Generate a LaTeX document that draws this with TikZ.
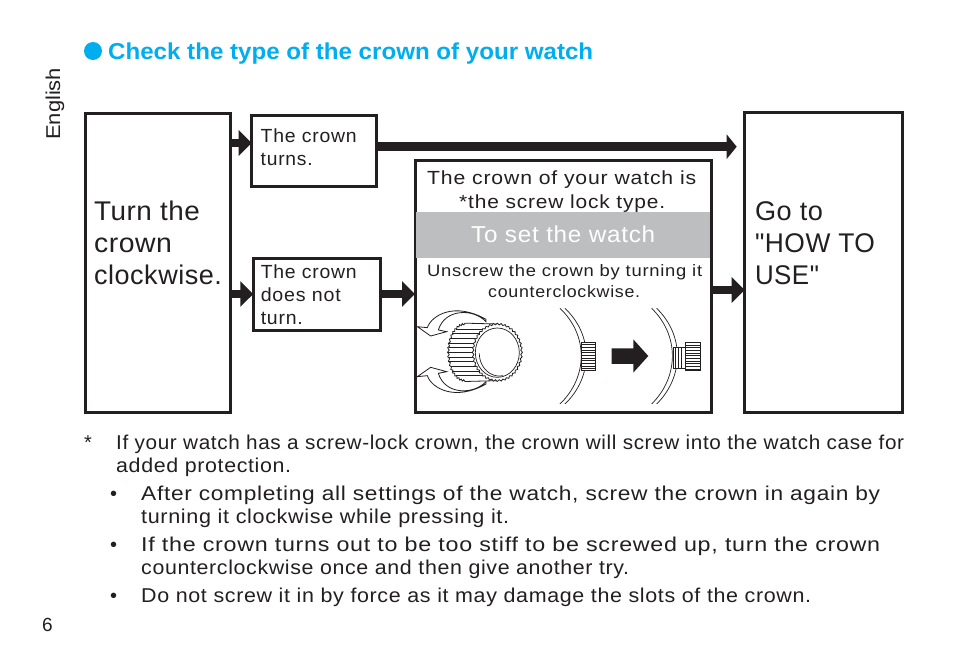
\documentclass[tikz,border=0pt]{standalone}
\usepackage{fontspec}
\setmainfont{Liberation Sans}
\newfontfamily\plainf{Liberation Sans}
\usetikzlibrary{arrows.meta}
\definecolor{ink}{HTML}{231F20}
\definecolor{headblue}{HTML}{00AEEF}
\definecolor{band}{HTML}{BCBEC0}
\newsavebox{\fitbox}
\newcommand{\fitw}[2]{\sbox{\fitbox}{#2}\pgfmathsetmacro{\fitr}{#1/\the\wd\fitbox}\scalebox{\fitr}[1]{#2}}
\newcommand{\boxtxt}[5]{\parbox[c][#2pt][t]{#1pt}{\raggedright\leftskip=#3pt\relax\rule{0pt}{#4pt}#5}}
\newcommand{\bigf}{\fontsize{27}{32}\selectfont\addfontfeature{LetterSpace=2}}
\newcommand{\smf}{\fontsize{19}{23}\selectfont\addfontfeature{LetterSpace=4}}
\newcommand{\bodyf}{\fontsize{20}{23}\selectfont\addfontfeature{LetterSpace=3}}
\tikzset{
 boxn/.style={draw=ink,line width=3pt,inner sep=0pt,outer sep=0pt,anchor=north west,text=ink},
 tx/.style={inner sep=0pt,anchor=base west,text=ink},
 flow/.style={draw=ink,line width=8.5pt,-{Triangle[length=13pt,width=25pt,color=ink]}},
 fig/.style={draw=ink,line width=0.8pt,fill=white},
 figl/.style={draw=ink,line width=0.7pt}
}
\begin{document}
\begin{tikzpicture}[x=1pt,y=-1pt]
\useasboundingbox[fill=white] (0,0) rectangle (954,665);
% heading
\node[circle,fill=headblue,minimum size=18pt,inner sep=0pt] (dot) at (93,51) {};
\node[tx,text=headblue] (head) at (108,59) {\fontsize{23}{26}\selectfont\bfseries\fitw{485}{Check the type of the crown of your watch}};
\node[inner sep=0pt,anchor=base west,rotate=90,text=ink] (lang) at (60,140) {\fontsize{20}{23}\selectfont\fitw{72}{English}};
\node[tx] (page) at (42,631) {\fontsize{19}{22}\selectfont 6};
% boxes
\node[boxn] (turn) at (85,113) {\bigf\boxtxt{145}{299}{9}{107}{\fitw{106}{Turn the}\\\fitw{78}{crown}\\\fitw{128}{clockwise.}}};
\node[boxn] (yes) at (251.7,115) {\smf\boxtxt{125}{71}{9}{27}{\fitw{96}{The crown}\\\fitw{52}{turns.}}};
\node[boxn] (no) at (253.3,258) {\smf\boxtxt{126.7}{72}{7.5}{20}{\fitw{96}{The crown}\\\fitw{80}{does not}\\\fitw{42}{turn.}}};
\node[boxn] (mid) at (415,160) {\parbox[c][252pt][t]{296.4pt}{\mbox{}}};
\node[boxn] (go) at (744.7,112.7) {\bigf\boxtxt{157.3}{299.3}{10.3}{107.3}{\fitw{68}{Go to}\\\fitw{120}{\plainf\addfontfeature{LetterSpace=2}"HOW TO}\\\fitw{64}{\plainf\addfontfeature{LetterSpace=2}USE"}}};
\fill[band] (416.4,212) rectangle (710,258);
% middle texts
\node[tx] (m1) at (427,184) {\smf\fitw{269}{The crown of your watch is}};
\node[tx] (m2) at (459,208) {\smf\fitw{206}{*the screw lock type.}};
\node[tx,text=white] (m3) at (471,242) {\fontsize{23}{26}\selectfont\addfontfeature{LetterSpace=3}\fitw{184}{To set the watch}};
\node[tx] (m4) at (427,276) {\fontsize{16.5}{20}\selectfont\addfontfeature{LetterSpace=4}\fitw{275}{Unscrew the crown by turning it}};
\node[tx] (m5) at (488,297) {\fontsize{16.5}{20}\selectfont\addfontfeature{LetterSpace=4}\fitw{152}{counterclockwise.}};
% connectors
\coordinate (ya) at (0,143);
\coordinate (yb) at (0,146.7);
\coordinate (yc) at (0,294);
\coordinate (yd) at (0,290);
\draw[flow] (turn.east|-ya) -- (yes.west|-ya);
\draw[flow,-{Triangle[length=10pt,width=24pt,color=ink]}] (yes.east|-yb) -- ([xshift=-8pt]go.west|-yb);
\draw[flow] (turn.east|-yc) -- (no.west|-yc);
\draw[flow] (no.east|-yc) -- (mid.west|-yc);
\draw[flow] (mid.east|-yd) -- (go.west|-yd);
% illustration (units: 1/3 px from origin 410,290)
\begin{scope}[shift={(410,290)},x=0.3333pt,y=-0.3333pt]
 % turning arrows
 \path[fig] (62,138) -- (22,110) -- (52,113) .. controls (65,75) and (135,35) .. (228,88) -- (228,95) .. controls (190,55) and (105,55) .. (85,120) -- (110,125) -- cycle;
 \path[fig] (62,232) -- (22,260) -- (52,257) .. controls (65,295) and (135,335) .. (228,282) -- (228,275) .. controls (190,315) and (105,315) .. (85,250) -- (110,245) -- cycle;
 % knob body
 \path[fig] plot[samples=41,domain=90:270,variable=\t] ({165+(50+2.5*cos(\t*40))*cos(\t)},{187+(85+2.5*cos(\t*40))*sin(\t)}) -- (262,102) -- (262,272) -- cycle;
 \foreach \y in {117,131,...,257}{
  \draw[figl] ({165-50*sqrt(1-((\y-187)/85)^2)},\y) -- ({262-74*sqrt(1-((\y-187)/85)^2)},\y);
 }
 % knob face
 \path[fig] plot[samples=81,domain=0:360,variable=\t] ({262+(73+2.5*cos(\t*40))*cos(\t)},{187+(85+2.5*cos(\t*40))*sin(\t)}) -- cycle;
 \draw[figl] (262,188) ellipse [x radius=66,y radius=74];
 \draw[figl] plot[samples=20,domain=80:180,variable=\t] ({268+60*cos(\t)},{190+68*sin(\t)});
 % watch case, before
 \draw[figl] (450,55) .. controls (535,135) and (535,260) .. (450,342);
 \draw[figl] (465,55) .. controls (550,135) and (550,260) .. (465,342);
 \path[fig] (515,156) rectangle (556,240);
 \foreach \y in {164,172,...,236}{\draw[figl] (515,\y) -- (556,\y);}
 % block arrow
 \fill[ink] (605,175) -- (670,175) -- (670,148) -- (715,198) -- (670,248) -- (670,222) -- (605,222) -- cycle;
 % watch case, after
 \draw[figl] (725,55) .. controls (808,135) and (808,260) .. (725,342);
 \draw[figl] (740,55) .. controls (823,135) and (823,260) .. (740,342);
 \path[fig] (789,171) rectangle (826,234);
 \foreach \x in {797,805,813}{\draw[figl] (\x,171) -- (\x,234);}
 \path[fig] (826,157) rectangle (871,242);
 \foreach \y in {165,173,...,237}{\draw[figl] (826,\y) -- (871,\y);}
\end{scope}
% notes
\node[tx] (st) at (84,449) {\bodyf *};
\node[tx] (l1) at (116,449) {\bodyf\fitw{788}{If your watch has a screw-lock crown, the crown will screw into the watch case for}};
\node[tx] (l2) at (116,472) {\bodyf\fitw{175}{added protection.}};
\node[tx] (b1) at (110,500) {\bodyf •};
\node[tx] (l3) at (141,500) {\bodyf\fitw{739}{After completing all settings of the watch, screw the crown in again by}};
\node[tx] (l4) at (141,523) {\bodyf\fitw{368}{turning it clockwise while pressing it.}};
\node[tx] (b2) at (110,551) {\bodyf •};
\node[tx] (l5) at (141,551) {\bodyf\fitw{739}{If the crown turns out to be too stiff to be screwed up, turn the crown}};
\node[tx] (l6) at (141,574) {\bodyf\fitw{488}{counterclockwise once and then give another try.}};
\node[tx] (b3) at (110,602) {\bodyf •};
\node[tx] (l7) at (141,602) {\bodyf\fitw{670}{Do not screw it in by force as it may damage the slots of the crown.}};
\end{tikzpicture}
\end{document}
